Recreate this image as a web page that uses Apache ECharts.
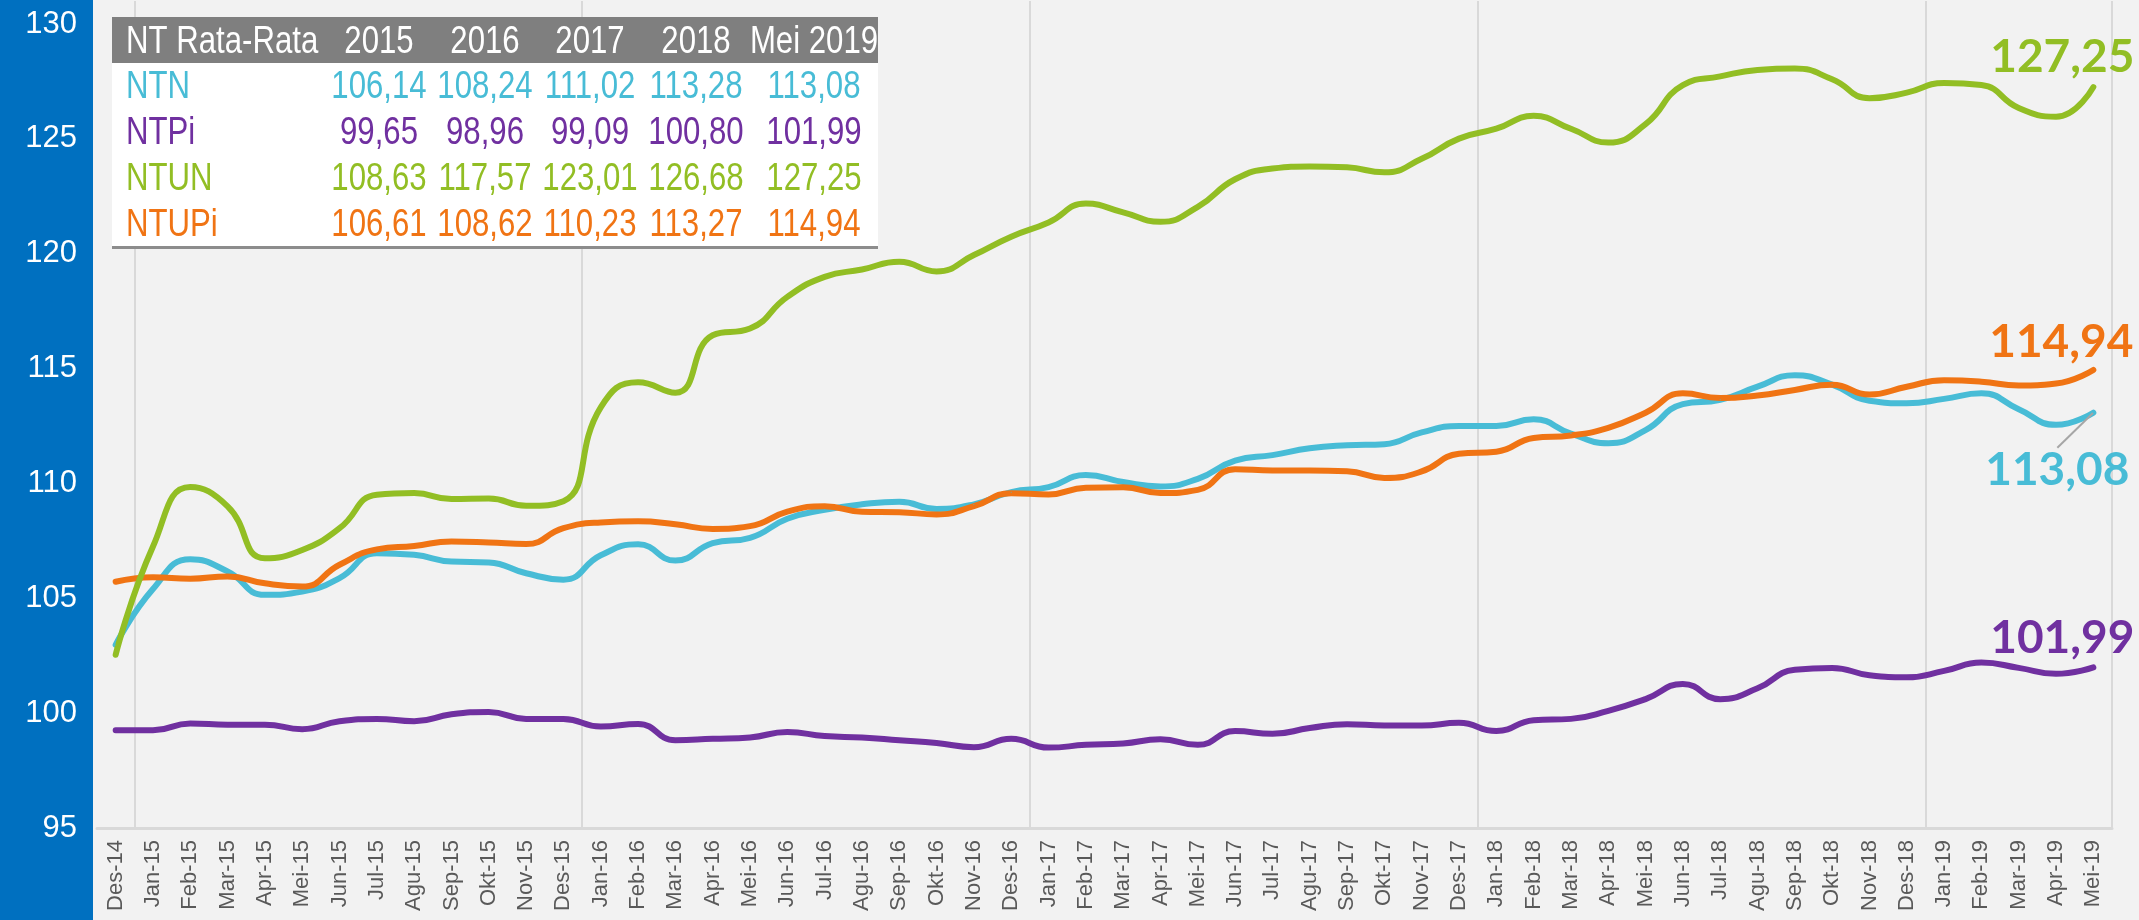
<!DOCTYPE html>
<html><head><meta charset="utf-8">
<script src="https://cdn.jsdelivr.net/npm/echarts@6/dist/echarts.min.js"></script>
<style>
html,body{margin:0;padding:0;background:#F2F2F2;}
#c{width:2139px;height:920px;background:linear-gradient(to right,#0070C0 0,#0070C0 93px,#F2F2F2 93px);}
</style>
</head><body><div id="c"></div>
<script>
const categories = ['Des-14',
 'Jan-15','Feb-15','Mar-15','Apr-15','Mei-15','Jun-15','Jul-15','Agu-15','Sep-15','Okt-15','Nov-15','Des-15',
 'Jan-16','Feb-16','Mar-16','Apr-16','Mei-16','Jun-16','Jul-16','Agu-16','Sep-16','Okt-16','Nov-16','Des-16',
 'Jan-17','Feb-17','Mar-17','Apr-17','Mei-17','Jun-17','Jul-17','Agu-17','Sep-17','Okt-17','Nov-17','Des-17',
 'Jan-18','Feb-18','Mar-18','Apr-18','Mei-18','Jun-18','Jul-18','Agu-18','Sep-18','Okt-18','Nov-18','Des-18',
 'Jan-19','Feb-19','Mar-19','Apr-19','Mei-19'];

const NTN = [102.97,
 105.40,106.70,106.17,105.15,105.29,105.88,106.96,106.89,106.60,106.56,106.09,105.81,
 106.87,107.35,106.64,107.40,107.63,108.46,108.85,109.09,109.20,108.89,109.09,109.62,
 109.84,110.37,110.06,109.87,110.20,110.99,111.23,111.53,111.66,111.71,112.22,112.50,
 112.50,112.79,112.17,111.75,112.32,113.45,113.64,114.21,114.71,114.30,113.60,113.49,
 113.68,113.92,113.23,112.55,113.08];

const NTPi = [99.25,
 99.25,99.55,99.50,99.50,99.30,99.65,99.75,99.65,99.95,100.05,99.75,99.75,
 99.42,99.53,98.82,98.88,98.94,99.18,99.00,98.94,98.82,98.70,98.52,98.88,
 98.50,98.62,98.68,98.86,98.62,99.22,99.10,99.35,99.52,99.46,99.46,99.58,
 99.22,99.69,99.75,100.10,100.61,101.27,100.61,101.08,101.89,101.97,101.65,101.56,
 101.84,102.20,101.97,101.71,101.99];

const NTUN = [102.54,
 107.25,109.84,109.00,106.74,107.10,108.05,109.51,109.58,109.32,109.34,109.03,109.22,
 113.31,114.40,113.95,116.45,116.74,118.12,118.99,119.31,119.65,119.23,119.94,120.74,
 121.36,122.18,121.80,121.39,122.04,123.24,123.71,123.80,123.76,123.54,124.13,125.01,
 125.44,126.00,125.44,124.84,125.64,127.34,127.72,128.00,128.06,127.59,126.77,127.01,
 127.43,127.34,126.34,125.96,127.25];

const NTUPi = [105.72,
 105.92,105.85,105.95,105.65,105.51,106.46,107.13,107.28,107.47,107.43,107.36,108.05,
 108.30,108.35,108.22,108.02,108.14,108.77,109.01,108.77,108.75,108.65,109.01,109.57,
 109.52,109.81,109.83,109.58,109.72,110.62,110.56,110.56,110.53,110.24,110.52,111.29,
 111.38,111.98,112.09,112.42,113.08,113.92,113.72,113.83,114.07,114.30,113.87,114.21,
 114.49,114.43,114.26,114.35,114.94];

const yTicks = {min: 95, max: 131, interval: 5};

const tableHeader = ['NT Rata-Rata','2015','2016','2017','2018','Mei 2019'];
const tableNames = ['NTN','NTPi','NTUN','NTUPi'];
const avgNTN   = [106.14,108.24,111.02,113.28,113.08];
const avgNTPi  = [99.65,98.96,99.09,100.80,101.99];
const avgNTUN  = [108.63,117.57,123.01,126.68,127.25];
const avgNTUPi = [106.61,108.62,110.23,113.27,114.94];

const colors = {NTN:'#48BCD6', NTPi:'#7030A0', NTUN:'#92BE24', NTUPi:'#F07414'};
const fmt = v => Number(v).toFixed(2).replace('.', ',');

const chart = echarts.init(document.getElementById('c'), null, {renderer:'canvas'});

function mkSeries(name, data, layout, guide){
  const color = colors[name];
  const last = data.length - 1;
  return {
    type:'line', name: name, smooth: 0.5,
    symbol:'circle', symbolSize: 1, showSymbol: true,
    lineStyle:{color: color, width: 6, cap:'round'},
    itemStyle:{color: color},
    data: data.map((v,i) => i === last ? {value: v, label:{show:true}} : v),
    label:{show:false, position:'inside', formatter: p => fmt(p.value), color: color,
      fontFamily:'Lato, "Liberation Sans", sans-serif', fontWeight:'bold', fontSize:46},
    labelLayout: layout,
    labelLine:{show: !!guide, length2: 0, lineStyle:{color:'#A6A6A6', width:2}},
    emphasis:{disabled:true},
    animation:false
  };
}

// table graphic (narrow look via horizontal scale)
const tFont = '"Liberation Sans", Arial, sans-serif';
const sx = 0.82;
const ZT = 100;
const tblLeft = 112, tblRight = 878, tblTop = 17, headH = 46, rowH = 46;
const colCenters = [379, 485, 590, 696, 814];
const rowData = [avgNTN, avgNTPi, avgNTUN, avgNTUPi];
const tChildren = [];
tChildren.push({type:'rect', z:ZT, shape:{x:tblLeft, y:tblTop, width:tblRight-tblLeft, height:headH+rowH*4}, style:{fill:'#FFFFFF'}});
tChildren.push({type:'rect', z:ZT+1, shape:{x:tblLeft, y:tblTop, width:tblRight-tblLeft, height:headH}, style:{fill:'#7F7F7F'}});
tChildren.push({type:'rect', z:ZT+1, shape:{x:tblLeft, y:tblTop+headH+rowH*4-1, width:tblRight-tblLeft, height:3}, style:{fill:'#8C8C8C'}});
tChildren.push({type:'text', z:ZT+2, x: tblLeft+14, y: tblTop+headH/2+3, scaleX: sx, style:{text: tableHeader[0], fill:'#FFFFFF', font:'38px '+tFont, textAlign:'left', textVerticalAlign:'middle'}});
for (let c = 0; c < 5; c++) {
  tChildren.push({type:'text', z:ZT+2, x: colCenters[c], y: tblTop+headH/2+3, scaleX: sx, style:{text: tableHeader[c+1], fill:'#FFFFFF', font:'38px '+tFont, textAlign:'center', textVerticalAlign:'middle'}});
}
for (let r = 0; r < 4; r++) {
  const yc = tblTop + headH + rowH*r + rowH/2 + 2;
  const col = colors[tableNames[r]];
  tChildren.push({type:'text', z:ZT+2, x: tblLeft+14, y: yc, scaleX: sx, style:{text: tableNames[r], fill: col, font:'38px '+tFont, textAlign:'left', textVerticalAlign:'middle'}});
  for (let c = 0; c < 5; c++) {
    tChildren.push({type:'text', z:ZT+2, x: colCenters[c], y: yc, scaleX: sx, style:{text: fmt(rowData[r][c]), fill: col, font:'38px '+tFont, textAlign:'center', textVerticalAlign:'middle'}});
  }
}

chart.setOption({
  backgroundColor:'transparent',
  animation:false,
  grid:{left:97, right:27, top:1, bottom:92, containLabel:false},
  xAxis:{
    type:'category', data: categories, boundaryGap:true,
    axisLine:{show:true, lineStyle:{color:'#D9D9D9', width:3}},
    axisTick:{show:false},
    axisLabel:{interval:0, rotate:90, color:'#595959', fontSize:22, margin:12,
      fontFamily:'"Liberation Sans", Arial, sans-serif'},
    splitLine:{show:true, interval:(i) => i % 12 === 1, lineStyle:{color:'#D9D9D9', width:2}}
  },
  yAxis:{
    type:'value', min: yTicks.min, max: yTicks.max, interval: yTicks.interval,
    axisLine:{show:false}, axisTick:{show:false}, splitLine:{show:false},
    axisLabel:{color:'#FFFFFF', fontSize:31, margin:20, showMaxLabel:false,
      fontFamily:'"Liberation Sans", Arial, sans-serif'}
  },
  series:[
    mkSeries('NTN', NTN, {dx:-36, dy:58}, true),
    mkSeries('NTPi', NTPi, {dx:-31, dy:-29}),
    mkSeries('NTUPi', NTUPi, {dx:-32, dy:-28}),
    mkSeries('NTUN', NTUN, {dx:-31, dy:-30})
  ],
  graphic:{elements:[{type:'group', z:ZT, children: tChildren}]}
});
</script></body></html>
